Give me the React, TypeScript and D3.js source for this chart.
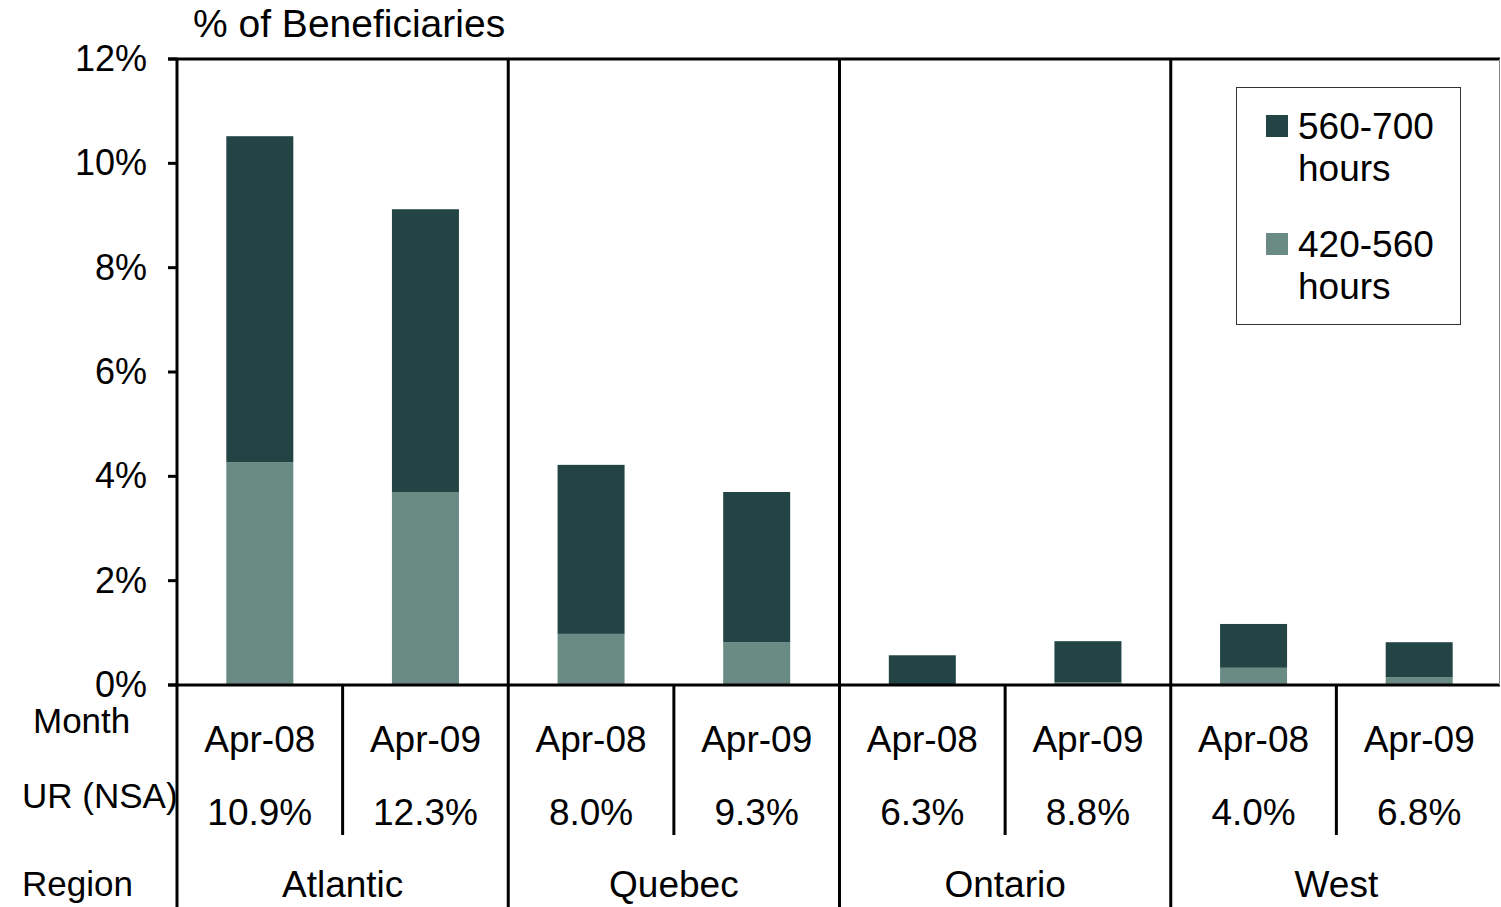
import React from "react";
import * as d3 from "d3";

const regions = ["Atlantic", "Quebec", "Ontario", "West"];
const months = ["Apr-08", "Apr-09"];
const urRates = [["10.9%", "12.3%"], ["8.0%", "9.3%"], ["6.3%", "8.8%"], ["4.0%", "6.8%"]];
const low420 = [4.27, 3.7, 0.98, 0.82, 0.0, 0.05, 0.33, 0.15];
const high560 = [6.25, 5.42, 3.24, 2.88, 0.57, 0.79, 0.84, 0.67];
const yTicks = [0, 2, 4, 6, 8, 10, 12];

const DARK = "#224444";
const LIGHT = "#6a8a84";

function T({ x, y, size, sx = 1, anchor = "start", children }: any) {
  return (
    <text transform={`translate(${x},${y}) scale(${sx},1)`} fontSize={size} textAnchor={anchor}>
      {children}
    </text>
  );
}

export default function App() {
  const W = 1501, H = 907;
  const x0 = 177, x1 = 1500, yTop = 59, yBot = 685;
  const y = d3.scaleLinear().domain([0, 12]).range([yBot, yTop]);
  const cats = regions.flatMap((r) => months.map((m) => r + "|" + m));
  const x = d3.scaleBand().domain(cats).range([x0, x1 + 2]).paddingInner(0).paddingOuter(0);
  const xr = d3.scaleBand().domain(regions).range([x0, x1 + 2]);
  const bw = 67;
  const font = "'Liberation Sans', Arial, sans-serif";
  const stacked = d3.stack<number>().keys(["low", "high"]).value((i, k) => (k === "low" ? low420[i] : high560[i]))(d3.range(cats.length));
  const colors = [LIGHT, DARK];
  return (
    <svg width={W} height={H} style={{ position: "absolute", left: 0, top: 0 }} fontFamily={font}>
      <rect width={W} height={H} fill="#fff" />
      <T x={193} y={37} size={39}>% of Beneficiaries</T>
      {stacked.map((s, si) =>
        s.map((d, i) => {
          const cx = x(cats[i])! + x.bandwidth() / 2;
          return (
            <rect key={si + "-" + i} x={cx - bw / 2} y={y(d[1])} width={bw} height={Math.max(0, y(d[0]) - y(d[1]))} fill={colors[si]} />
          );
        })
      )}
      <line x1={x0 - 9} x2={x1} y1={yTop} y2={yTop} stroke="#000" strokeWidth={3} />
      <line x1={x0 - 9} x2={x1} y1={yBot} y2={yBot} stroke="#000" strokeWidth={3} />
      <line x1={x0} x2={x0} y1={yTop} y2={H} stroke="#000" strokeWidth={3} />
      <line x1={x1 - 0.5} x2={x1 - 0.5} y1={yTop} y2={yBot} stroke="#888" strokeWidth={1} />
      {regions.slice(1).map((r) => (
        <line key={r} x1={xr(r)!} x2={xr(r)!} y1={yTop} y2={H} stroke="#000" strokeWidth={3} />
      ))}
      {regions.map((r) => (
        <line key={"m" + r} x1={xr(r)! + xr.bandwidth() / 2} x2={xr(r)! + xr.bandwidth() / 2} y1={yBot} y2={835} stroke="#000" strokeWidth={3} />
      ))}
      {yTicks.map((t) => (
        <g key={t}>
          <line x1={x0 - 9} x2={x0} y1={y(t)} y2={y(t)} stroke="#000" strokeWidth={3} />
          <T x={147} y={y(t) + 12} size={36} anchor="end">{t + "%"}</T>
        </g>
      ))}
      <T x={33} y={733} size={35}>Month</T>
      <T x={22} y={808} size={35}>UR (NSA)</T>
      <T x={22} y={896} size={35}>Region</T>
      {cats.map((c, i) => {
        const cx = x(c)! + x.bandwidth() / 2;
        const [r, m] = c.split("|");
        return (
          <g key={c}>
            <T x={cx} y={752} size={37} anchor="middle">{m}</T>
            <T x={cx} y={825} size={37} anchor="middle">{urRates[regions.indexOf(r)][i % 2]}</T>
          </g>
        );
      })}
      {regions.map((r) => (
        <T key={"rl" + r} x={xr(r)! + xr.bandwidth() / 2} y={897} size={37} anchor="middle">{r}</T>
      ))}
      <rect x={1236.5} y={87.5} width={224} height={237} fill="#fff" stroke="#333" strokeWidth={1} />
      <rect x={1266} y={115} width={22} height={22} fill={DARK} />
      <T x={1298} y={139} size={37}>560-700</T>
      <T x={1298} y={181} size={37}>hours</T>
      <rect x={1266} y={233} width={22} height={22} fill={LIGHT} />
      <T x={1298} y={257} size={37}>420-560</T>
      <T x={1298} y={299} size={37}>hours</T>
    </svg>
  );
}
